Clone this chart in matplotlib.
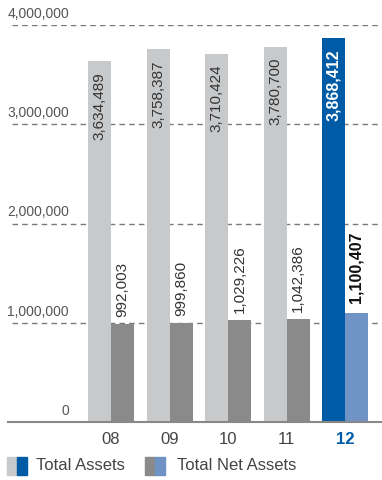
import numpy as np
import matplotlib.pyplot as plt
from matplotlib.patches import Rectangle

years = ['08', '09', '10', '11', '12']
total_assets = [3634489, 3758387, 3710424, 3780700, 3868412]
net_assets = [992003, 999860, 1029226, 1042386, 1100407]
yticks = [0, 1000000, 2000000, 3000000, 4000000]

c_light = '#c8c9cb'
c_dark = '#8a8a8a'
c_blue = '#005ba6'
c_lblue = '#7093c6'
reg = ['Liberation Sans', 'DejaVu Sans']

W, H = 382, 480
fig = plt.figure(figsize=(W / 100, H / 100), dpi=100)
ax = fig.add_axes([8 / W, 58 / H, 374 / W, 397 / H])

x = np.arange(len(years))
px = 58.5  # pixels per group
xmin = -(111 - 8) / px
ax.set_xlim(xmin, xmin + 374 / px)
ax.set_ylim(0, 4000000)
bw = 23 / px

c1 = [c_light] * 4 + [c_blue]
c2 = [c_dark] * 4 + [c_lblue]
ax.bar(x - bw / 2, total_assets, bw, color=c1, zorder=3)
ax.bar(x + bw / 2, net_assets, bw, color=c2, zorder=3)

for v in yticks[1:]:
    ax.axhline(v, xmin=4 / 374, color='#7a7a7a', lw=1, dashes=(4, 3), zorder=1)

for i in range(len(years)):
    last = i == len(years) - 1
    ax.annotate(f'{total_assets[i]:,}', (x[i] - bw / 2, total_assets[i]),
                xytext=(0, -8), textcoords='offset points', rotation=90,
                ha='center', va='top', fontsize=11.5 if last else 11, family=reg,
                color='white' if last else '#333333',
                fontweight='bold' if last else 'normal', zorder=4)
    ax.annotate(f'{net_assets[i]:,}', (x[i] + bw / 2, net_assets[i]),
                xytext=(0, 5 if not last else 7), textcoords='offset points',
                rotation=90, ha='center', va='bottom',
                fontsize=11.5 if last else 11, family=reg,
                color='#111111' if last else '#333333',
                fontweight='bold' if last else 'normal', zorder=4)

# y labels above the grid lines
for v in yticks:
    ax.annotate(f'{v:,}', (0, v), xycoords=('axes fraction', 'data'),
                xytext=(61 * 0.72, 3), textcoords='offset points',
                ha='right', va='bottom', fontsize=10, family=reg,
                color='#555555', annotation_clip=False)

ax.set_yticks([])
ax.set_xticks(x)
ax.set_xticklabels(years, fontsize=12, family=reg, color='#444444')
ax.tick_params(axis='x', length=0, pad=7)
lab = ax.get_xticklabels()[-1]
lab.set_color(c_blue)
lab.set_fontweight('bold')

for s in ['top', 'right', 'left']:
    ax.spines[s].set_visible(False)
ax.spines['bottom'].set_color('#888888')
ax.spines['bottom'].set_linewidth(1.5)
ax.spines['bottom'].set_zorder(5)

# legend
def swatch(x0, ca, cb):
    fig.patches.append(Rectangle((x0 / W, 1 - 475 / H), 10 / W, 18 / H,
                                 color=ca, transform=fig.transFigure))
    fig.patches.append(Rectangle(((x0 + 10) / W, 1 - 475 / H), 10 / W, 18 / H,
                                 color=cb, transform=fig.transFigure))

swatch(7, c_light, c_blue)
swatch(145, c_dark, c_lblue)
fig.text(36 / W, 1 - 466 / H, 'Total Assets', fontsize=12, family=reg,
         color='#444444', va='center')
fig.text(177 / W, 1 - 466 / H, 'Total Net Assets', fontsize=12, family=reg,
         color='#444444', va='center')

fig.savefig('out.png', dpi=100)
